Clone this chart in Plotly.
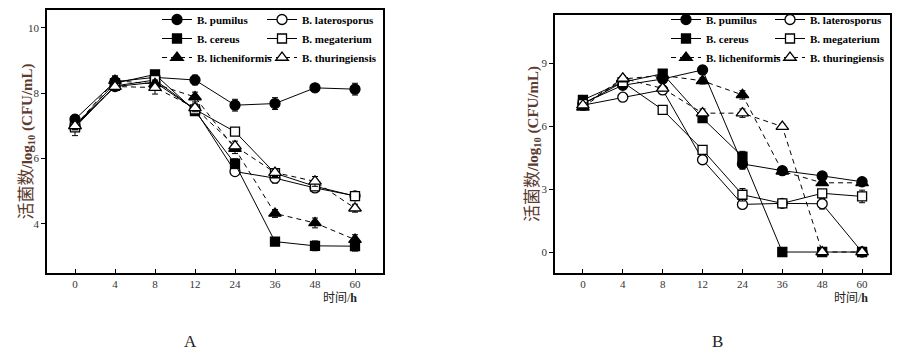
import plotly.graph_objects as go

times = ["0", "4", "8", "12", "24", "36", "48", "60"]
species = ["B. pumilus", "B. laterosporus", "B. cereus", "B. megaterium",
           "B. licheniformis", "B. thuringiensis"]

# Panel A values (log10 CFU/mL)
a_pumilus = [7.2, 8.35, 8.48, 8.4, 7.63, 7.68, 8.16, 8.12]
a_laterosporus = [7.0, 8.2, 8.33, 7.5, 5.6, 5.4, 5.1, 4.86]
a_cereus = [7.0, 8.3, 8.57, 7.45, 5.84, 3.46, 3.33, 3.32]
a_megaterium = [6.95, 8.22, 8.4, 7.5, 6.82, 5.55, 5.15, 4.85]
a_licheniformis = [7.0, 8.38, 8.28, 7.88, 6.3, 4.32, 4.03, 3.52]
a_thuringiensis = [7.0, 8.2, 8.17, 7.55, 6.38, 5.57, 5.3, 4.48]

a_err_pumilus = [0.12, 0.15, 0.1, 0.15, 0.18, 0.18, 0.1, 0.18]
a_err_laterosporus = [0.12, 0.12, 0.15, 0.12, 0.1, 0.15, 0.12, 0.12]
a_err_cereus = [0.12, 0.15, 0.1, 0.12, 0.15, 0.12, 0.15, 0.15]
a_err_megaterium = [0.25, 0.12, 0.12, 0.12, 0.1, 0.12, 0.12, 0.1]
a_err_licheniformis = [0.12, 0.15, 0.12, 0.15, 0.15, 0.12, 0.15, 0.15]
a_err_thuringiensis = [0.12, 0.12, 0.2, 0.12, 0.15, 0.12, 0.15, 0.12]

# Panel B values (log10 CFU/mL)
b_pumilus = [7.1, 7.95, 8.25, 8.68, 4.2, 3.88, 3.63, 3.35]
b_laterosporus = [7.0, 7.38, 7.73, 4.4, 2.27, 2.32, 2.3, 0.0]
b_cereus = [7.25, 8.1, 8.5, 6.38, 4.55, 0.0, 0.0, 0.0]
b_megaterium = [7.05, 8.1, 6.78, 4.87, 2.73, 2.32, 2.8, 2.65]
b_licheniformis = [6.9, 8.25, 8.42, 8.16, 7.49, 3.85, 3.3, 3.3]
b_thuringiensis = [7.0, 8.28, 7.8, 6.62, 6.62, 5.98, 0.0, 0.0]

b_err_pumilus = [0.12, 0.12, 0.12, 0.2, 0.25, 0.15, 0.12, 0.12]
b_err_laterosporus = [0.12, 0.12, 0.12, 0.12, 0.2, 0.12, 0.25, 0.05]
b_err_cereus = [0.12, 0.12, 0.12, 0.2, 0.25, 0.05, 0.05, 0.05]
b_err_megaterium = [0.12, 0.12, 0.12, 0.15, 0.3, 0.12, 0.12, 0.3]
b_err_licheniformis = [0.12, 0.12, 0.12, 0.15, 0.2, 0.15, 0.12, 0.12]
b_err_thuringiensis = [0.12, 0.12, 0.12, 0.2, 0.2, 0.12, 0.05, 0.05]

a_ticks = [4, 6, 8, 10]
b_ticks = [0, 3, 6, 9]

styles = {
    "B. pumilus": dict(symbol="circle", fill="black", dash="solid", col=0),
    "B. laterosporus": dict(symbol="circle", fill="white", dash="solid", col=1),
    "B. cereus": dict(symbol="square", fill="black", dash="solid", col=0),
    "B. megaterium": dict(symbol="square", fill="white", dash="solid", col=1),
    "B. licheniformis": dict(symbol="triangle-up", fill="black", dash="5px,4px", col=0),
    "B. thuringiensis": dict(symbol="triangle-up", fill="white", dash="5px,4px", col=1),
}
sizes = {"circle": 10, "square": 9, "triangle-up": 11}

panel_a = {
    "B. pumilus": (a_pumilus, a_err_pumilus),
    "B. laterosporus": (a_laterosporus, a_err_laterosporus),
    "B. cereus": (a_cereus, a_err_cereus),
    "B. megaterium": (a_megaterium, a_err_megaterium),
    "B. licheniformis": (a_licheniformis, a_err_licheniformis),
    "B. thuringiensis": (a_thuringiensis, a_err_thuringiensis),
}
panel_b = {
    "B. pumilus": (b_pumilus, b_err_pumilus),
    "B. laterosporus": (b_laterosporus, b_err_laterosporus),
    "B. cereus": (b_cereus, b_err_cereus),
    "B. megaterium": (b_megaterium, b_err_megaterium),
    "B. licheniformis": (b_licheniformis, b_err_licheniformis),
    "B. thuringiensis": (b_thuringiensis, b_err_thuringiensis),
}

fig = go.Figure()


def add_panel(data, xref, yref, legends):
    for name in species:
        vals, errs = data[name]
        st = styles[name]
        fig.add_trace(go.Scatter(
            x=times, y=vals, name=name, mode="lines+markers",
            xaxis=xref, yaxis=yref, legend=legends[st["col"]],
            line=dict(color="black", width=1, dash=st["dash"]),
            marker=dict(symbol=st["symbol"], size=sizes[st["symbol"]],
                        color=st["fill"], line=dict(color="black", width=1.3)),
            error_y=dict(type="data", array=errs, visible=True,
                         color="black", thickness=1, width=3),
        ))


add_panel(panel_a, "x", "y", ("legend", "legend2"))
add_panel(panel_b, "x2", "y2", ("legend3", "legend4"))

W, H = 900, 355
serif = "Liberation Serif, Times New Roman, serif"
tickfont = dict(family=serif, size=11, color="#333")

axis_common = dict(showline=True, linecolor="black", linewidth=1.5, mirror=True,
                   showgrid=False, zeroline=False, tickcolor="black",
                   ticklen=4, tickwidth=1, tickfont=tickfont)

legend_common = dict(xanchor="left", yanchor="top", orientation="v",
                     itemwidth=30, bgcolor="rgba(0,0,0,0)", borderwidth=0,
                     tracegroupgap=0,
                     font=dict(family=serif, size=11, color="black", weight="bold"))
leg_y = 1 - 5 / H

fig.update_layout(
    width=W, height=H,
    margin=dict(l=0, r=0, t=0, b=0, autoexpand=False),
    paper_bgcolor="white", plot_bgcolor="white",
    xaxis=dict(domain=[47 / W, 383 / W], anchor="y", type="category",
               range=[-0.7, 7.7], ticks="inside", **axis_common),
    yaxis=dict(domain=[1 - 273 / H, 1 - 10 / H], anchor="x",
               range=[2.5, 10.54], tickvals=a_ticks, ticks="outside", **axis_common),
    xaxis2=dict(domain=[555 / W, 890 / W], anchor="y2", type="category",
                range=[-0.7, 7.7], ticks="inside", **axis_common),
    yaxis2=dict(domain=[1 - 273 / H, 1 - 15 / H], anchor="x2",
                range=[-1.0, 11.3], tickvals=b_ticks, ticks="outside", **axis_common),
    legend=dict(x=157 / W, y=leg_y, **legend_common),
    legend2=dict(x=262 / W, y=leg_y, **legend_common),
    legend3=dict(x=666 / W, y=leg_y, **legend_common),
    legend4=dict(x=770 / W, y=leg_y, **legend_common),
    showlegend=True,
)

ytitle = ("<span style='font-size:17px'>活菌数</span>"
          "<b>/log<sub>10</sub> (CFU/mL)</b>")
title_color = "#5b3a30"
cjk = serif + ", Noto Sans CJK SC"
annos = [
    dict(text=ytitle, x=26 / W, y=1 - 141.5 / H, textangle=-90, size=15, color=title_color),
    dict(text=ytitle, x=533 / W, y=1 - 144 / H, textangle=-90, size=15, color=title_color),
    dict(text="时间/<b>h</b>", x=340 / W, y=1 - 298 / H, textangle=0, size=12, color="#222"),
    dict(text="时间/<b>h</b>", x=851 / W, y=1 - 298 / H, textangle=0, size=12, color="#222"),
]
for a in annos:
    fig.add_annotation(xref="paper", yref="paper", showarrow=False,
                       xanchor="center", yanchor="middle",
                       text=a["text"], x=a["x"], y=a["y"], textangle=a["textangle"],
                       font=dict(family=cjk, size=a["size"], color=a["color"]))

for lab, xp in (("A", 190), ("B", 717)):
    fig.add_annotation(xref="paper", yref="paper", showarrow=False,
                       text=lab, x=xp / W, y=1 - 341 / H,
                       xanchor="center", yanchor="middle",
                       font=dict(family=serif, size=17, color="#222"))

fig.write_html("out.html", config={"displayModeBar": False},
               post_script="document.body.style.margin='0';")
